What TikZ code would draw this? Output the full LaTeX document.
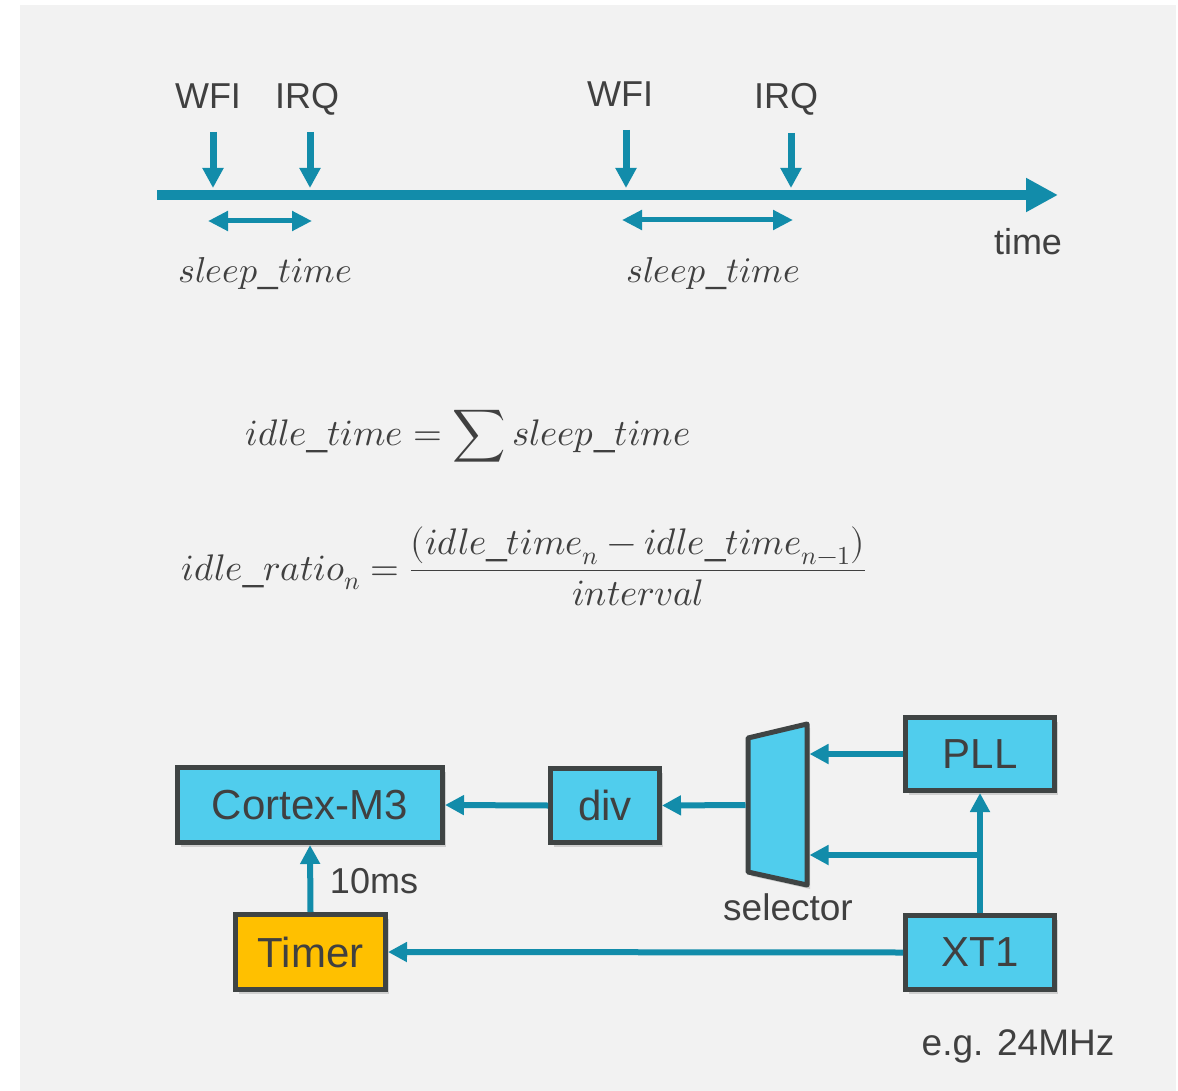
\documentclass[tikz,border=0pt]{standalone}
\usepackage{fontspec}
\usepackage{unicode-math}
\setmainfont{Liberation Sans}
\setmathfont{Latin Modern Math}
\usetikzlibrary{arrows.meta,positioning,shadows}
\definecolor{linecol}{HTML}{128CAA}
\definecolor{boxcol}{HTML}{50CDED}
\definecolor{timercol}{HTML}{FFC000}
\definecolor{edgecol}{HTML}{3F4444}
\definecolor{txtcol}{HTML}{404040}
\definecolor{bgcol}{HTML}{F2F2F2}
\tikzset{
	lbl/.style={text=txtcol, inner sep=0pt, font=\fontsize{36}{40}\selectfont},
	mlbl/.style={text=txtcol, inner sep=0pt, font=\fontsize{37}{42}\selectfont},
	timeline/.style={draw=linecol, line width=10pt, -{Triangle[length=32pt,width=32pt]}},
	evarrow/.style={draw=linecol, line width=7pt, -{Triangle[length=20pt,width=20pt]}},
	span/.style={draw=linecol, line width=5pt, {Triangle[length=20pt,width=19pt]}-{Triangle[length=20pt,width=19pt]}},
	flow/.style={draw=linecol, line width=6pt, -{Triangle[length=19pt,width=19pt]}},
	blockbox/.style={draw=edgecol, line width=5pt, fill=boxcol, text=txtcol,
		minimum width=149pt, minimum height=75pt, inner sep=0pt,
		font=\fontsize{42}{46}\selectfont,
		drop shadow={opacity=0.3, shadow xshift=3pt, shadow yshift=-4pt}},
}

\begin{document}
\begin{tikzpicture}[x=1pt, y=-1pt]
	\useasboundingbox[fill=white] (0,0) rectangle (1178,1091);
	\fill[bgcol] (20,5) rectangle (1176,1091);

	% time line with WFI / IRQ events
	\coordinate (t0) at (157,195);
	\coordinate (t1) at (1058,195);
	\draw[timeline] (t0) -- (t1);
	\node[lbl, anchor=base] (time) at (1028,255) {time};

	\node[lbl, anchor=base] (wfia) at (208,109) {WFI};
	\node[lbl, anchor=base] (irqa) at (307,109) {IRQ};
	\node[lbl, anchor=base] (wfib) at (620,107) {WFI};
	\node[lbl, anchor=base] (irqb) at (786,109) {IRQ};
	\draw[evarrow] (213,132) coordinate (wfia-s) -- ++(0,56);
	\draw[evarrow] (310,132) coordinate (irqa-s) -- ++(0,56);
	\draw[evarrow] (626,130) coordinate (wfib-s) -- ++(0,58);
	\draw[evarrow] (791,133) coordinate (irqb-s) -- ++(0,55);

	\coordinate (sa0) at (208,221);
	\coordinate (sa1) at (312,221);
	\coordinate (sb0) at (622,220);
	\coordinate (sb1) at (793,220);
	\draw[span] (sa0) -- (sa1);
	\draw[span] (sb0) -- (sb1);
	\node[mlbl, anchor=base, font=\fontsize{36}{40}\selectfont] (sleepa) at (265,283) {$sleep\_time$};
	\node[mlbl, anchor=base, font=\fontsize{36}{40}\selectfont] (sleepb) at (713,283) {$sleep\_time$};

	% formulas
	\node[mlbl, anchor=base] (idle) at (468,445) {$\displaystyle idle\_time = \sum sleep\_time$};
	\node[mlbl, anchor=base] (ratio) at (524,580)
		{$\displaystyle idle\_ratio_n = \frac{(idle\_time_n - idle\_time_{n-1})}{interval}$};

	% clock tree
	\node[blockbox, minimum width=265pt] (cortex) at (310,805) {Cortex-M3};
	\node[blockbox, fill=timercol, minimum width=150pt] (timer) at (310.5,952) {Timer};
	\node[blockbox, minimum width=109pt, minimum height=74pt] (div) at (605,805.5) {div};
	\node[blockbox, minimum height=73pt] (pll) at (980,754) {PLL};
	\node[blockbox, minimum height=74pt] (xt) at (980,952.5) {XT1};

	\draw[draw=edgecol, line width=5pt, fill=boxcol, line join=round,
		drop shadow={opacity=0.3, shadow xshift=3pt, shadow yshift=-4pt}]
		(748,738) -- (807,724) -- (807,885) -- (748,872) -- cycle;
	\coordinate (selr) at (809.5,805);
	\coordinate (sell) at (745.5,805);
	\coordinate (branch) at (980,855);
	\node[lbl, anchor=base, font=\fontsize{37}{40}\selectfont] (sellbl) at (788,920) {selector};

	\draw[flow] (pll.west) -- (pll.west -| selr);
	\draw[flow] (xt.north) -- (pll.south);
	\draw[flow] (branch) -- (branch -| selr);
	\draw[flow] (sell) -- (div.east);
	\draw[flow] (div.west) -- (cortex.east);
	\draw[flow] (timer.north) -- (cortex.south);
	\node[lbl, anchor=base] (tick) at (374,893) {10ms};
	\draw[flow] (xt.west) -- (timer.east);
	\node[lbl, anchor=base, font=\fontsize{37}{40}\selectfont] (freq) at (1018,1055) {e.g. 24MHz};
\end{tikzpicture}
\end{document}
